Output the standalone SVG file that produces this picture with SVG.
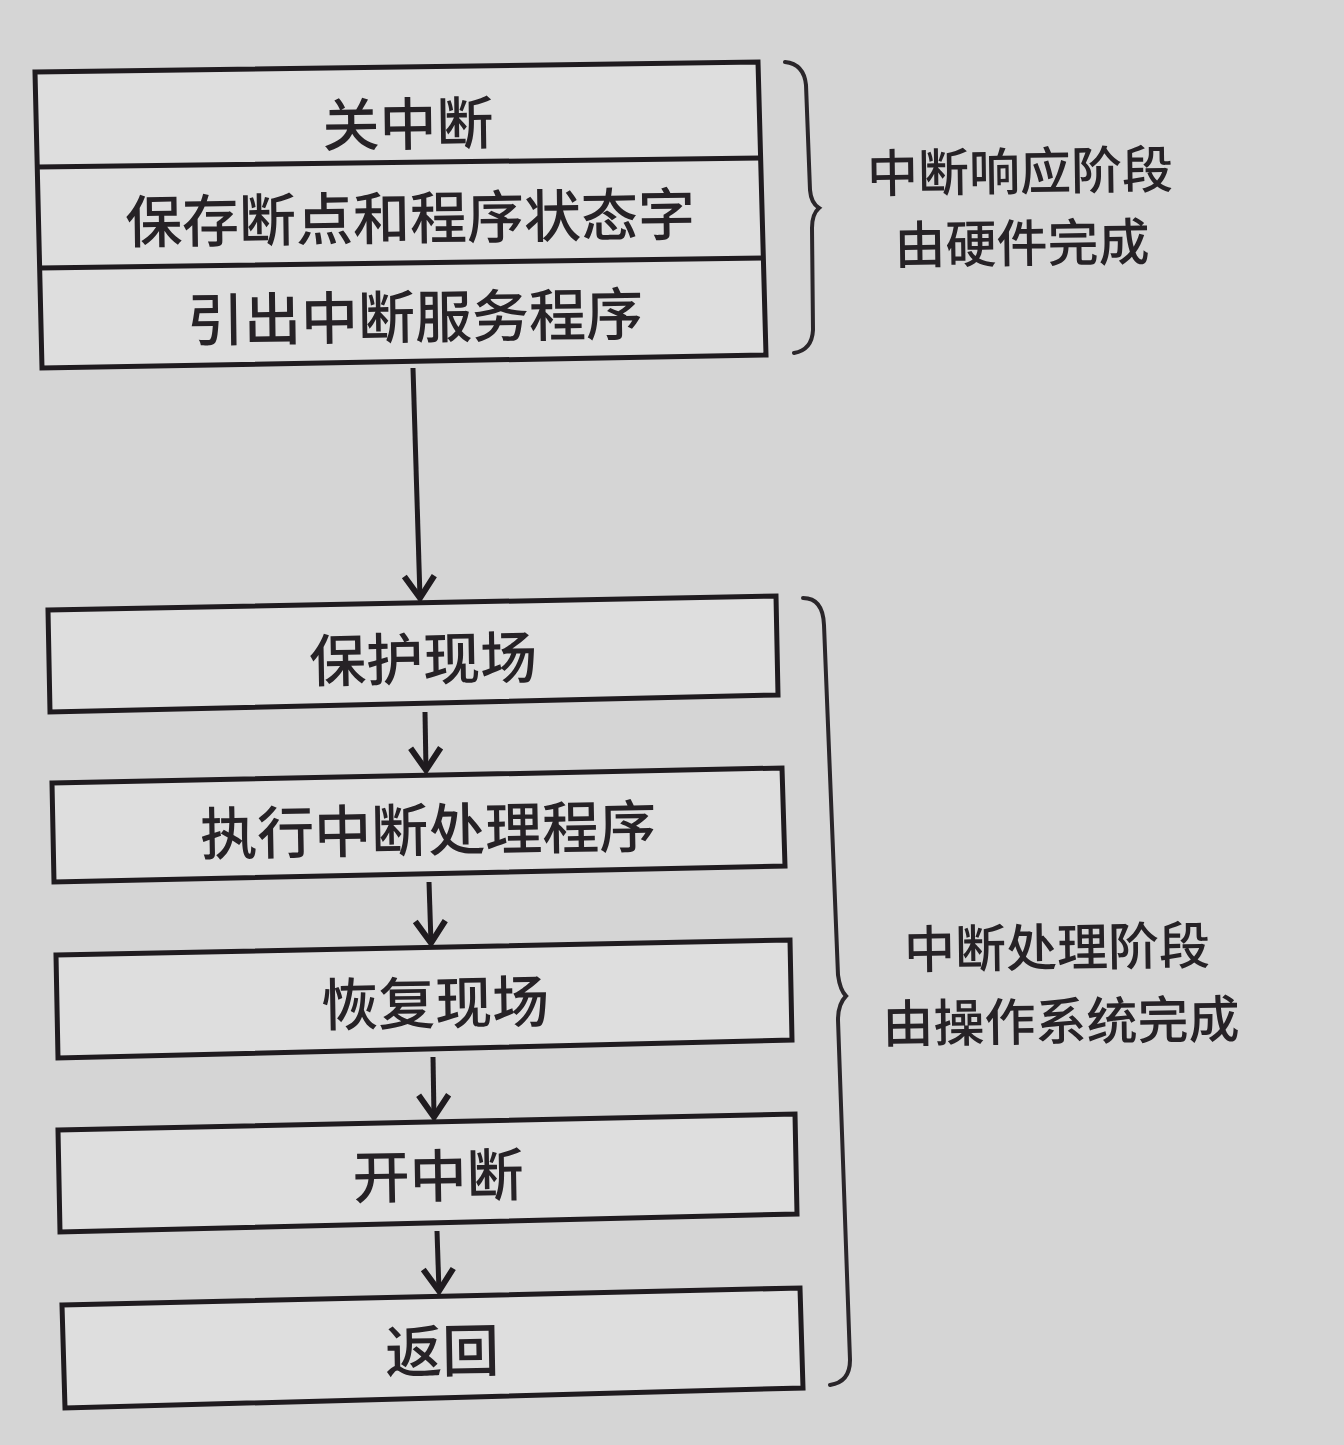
<svg xmlns="http://www.w3.org/2000/svg" width="1344" height="1445" viewBox="0 0 1344 1445">
<style>
.bg{fill:#d5d5d5}
.box{fill:#dedede;stroke:#1f1b1f;stroke-width:5;stroke-linejoin:miter}
.div{fill:none;stroke:#1f1b1f;stroke-width:5}
.lbl{font-family:"Noto Sans CJK SC","Noto Sans CJK JP",sans-serif;font-size:57px;font-weight:500;fill:#262226;text-anchor:middle;dominant-baseline:central}
.side{font-family:"Noto Sans CJK SC","Noto Sans CJK JP",sans-serif;font-size:51px;font-weight:500;fill:#262226;text-anchor:middle;dominant-baseline:central}
.conn{fill:none;stroke:#1f1b1f;stroke-width:5}
.brace{fill:none;stroke:#2a262a;stroke-width:4;stroke-linecap:round}
</style>
<defs>
<marker id="arr" markerWidth="12" markerHeight="12" refX="8" refY="6" orient="auto" markerUnits="userSpaceOnUse" viewBox="0 0 12 12" overflow="visible">
<path d="M-14,-9 L8,6 L-14,21" fill="none" stroke="#1f1b1f" stroke-width="6" stroke-linejoin="miter"/>
</marker>
</defs>
<rect class="bg" x="0" y="0" width="1344" height="1445"/>

<g id="n-hw">
<polygon class="box" points="35,72 758,62 766,355 42,368"/>
<path class="div" d="M38,167 L760,158 M40,268 L763,258"/>
<text class="lbl" x="408" y="120" transform="rotate(-0.8 408 120)">关中断</text>
<text class="lbl" x="410" y="214" transform="rotate(-0.8 410 214)">保存断点和程序状态字</text>
<text class="lbl" x="415" y="313" transform="rotate(-0.8 415 313)">引出中断服务程序</text>
</g>

<g id="n1">
<polygon class="box" points="48,610 776,596 778,695 50,712"/>
<text class="lbl" x="423" y="655" transform="rotate(-1 423 655)">保护现场</text>
</g>
<g id="n2">
<polygon class="box" points="52,783 782,768 785,866 54,882"/>
<text class="lbl" x="428" y="826" transform="rotate(-1 428 826)">执行中断处理程序</text>
</g>
<g id="n3">
<polygon class="box" points="56,955 790,940 792,1040 58,1058"/>
<text class="lbl" x="435" y="999" transform="rotate(-1 435 999)">恢复现场</text>
</g>
<g id="n4">
<polygon class="box" points="58,1130 795,1114 797,1214 60,1232"/>
<text class="lbl" x="438" y="1172" transform="rotate(-1 438 1172)">开中断</text>
</g>
<g id="n5">
<polygon class="box" points="62,1305 800,1288 803,1388 65,1408"/>
<text class="lbl" x="442" y="1347" transform="rotate(-1 442 1347)">返回</text>
</g>

<g id="connectors">
<line class="conn" x1="413" y1="368" x2="420" y2="598" marker-end="url(#arr)"/>
<line class="conn" x1="425" y1="712" x2="426" y2="770" marker-end="url(#arr)"/>
<line class="conn" x1="429" y1="882" x2="431" y2="943" marker-end="url(#arr)"/>
<line class="conn" x1="433" y1="1057" x2="434" y2="1117" marker-end="url(#arr)"/>
<line class="conn" x1="437" y1="1231" x2="439" y2="1291" marker-end="url(#arr)"/>
</g>

<g id="brace-hw">
<path class="brace" d="M785,62 Q804,64 806,85 L810,190 Q811,203 819,208 Q812,214 812,228 L813,330 Q812,350 794,353"/>
<text class="side" x="1020" y="168" transform="rotate(-0.8 1020 168)">中断响应阶段</text>
<text class="side" x="1022" y="240" transform="rotate(-0.8 1022 240)">由硬件完成</text>
</g>

<g id="brace-os">
<path class="brace" d="M803,598 Q823,598 824,625 L838,975 Q840,990 846,996 Q838,1004 838,1020 L850,1360 Q850,1382 830,1385"/>
<text class="side" x="1057" y="944" transform="rotate(-0.8 1057 944)">中断处理阶段</text>
<text class="side" x="1061" y="1018" transform="rotate(-0.8 1061 1018)">由操作系统完成</text>
</g>
</svg>
